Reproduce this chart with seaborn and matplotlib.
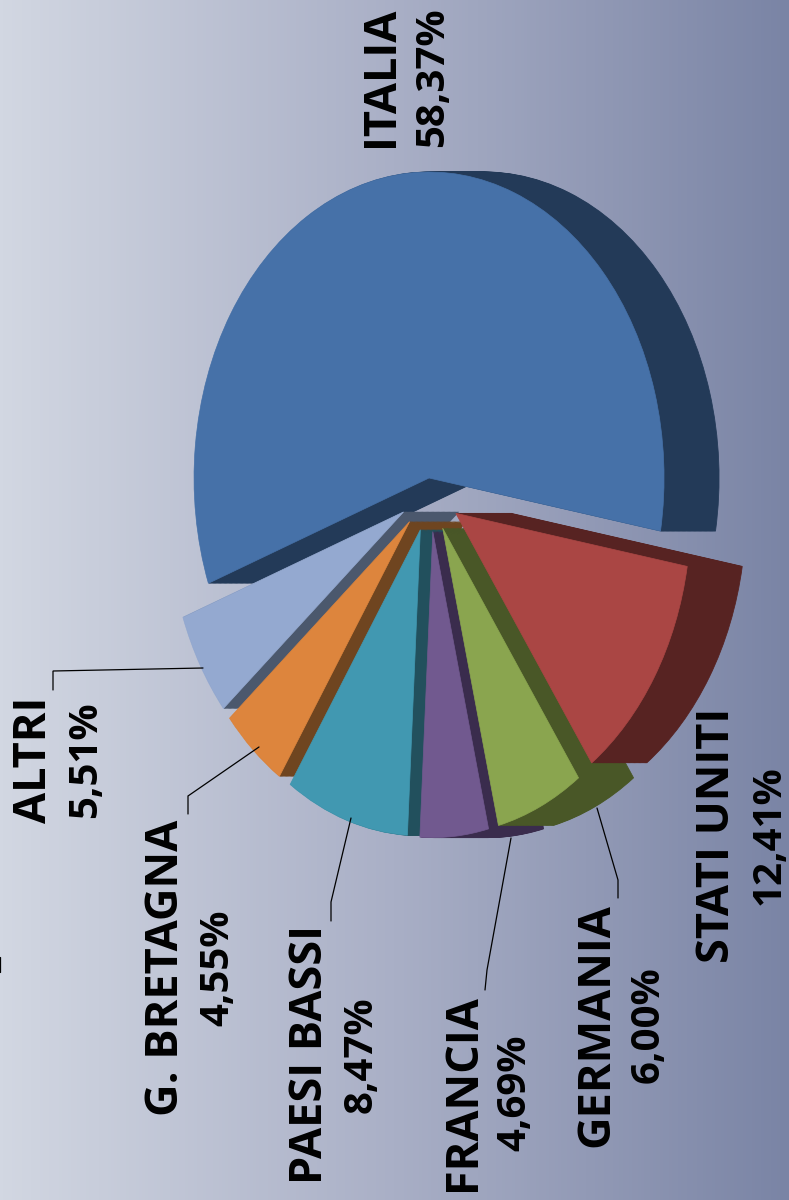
#!/usr/bin/env python3
import numpy as np
import matplotlib
matplotlib.use("Agg")
import matplotlib.pyplot as plt
from matplotlib.colors import LinearSegmentedColormap
import seaborn as sns

countries = ["ITALIA", "ALTRI", "G. BRETAGNA", "PAESI BASSI", "FRANCIA", "GERMANIA", "STATI UNITI"]
shares = [58.37, 5.51, 4.55, 8.47, 4.69, 6.00, 12.41]
face_colors = ["#4671A8", "#94A9D0", "#DD853D", "#4198B1", "#71598F", "#8AA54F", "#AA4644"]
side_colors = ["#233A58", "#4B586D", "#6F4520", "#22505D", "#3A2C4D", "#495727", "#572322"]

W, H = 789, 1200
CX, CY = 430, 492      # pie centre, pixels
RX, RY = 235, 306      # squashed radius, pixels
DEPTH = 55             # extrusion to the right, pixels
START = -10

sns.set_theme(style="white")
plt.rcParams['font.family'] = ['Open Sans', 'DejaVu Sans']


def to_data(px, py):
    return (px - CX) / RX, (CY - py) / RY


fig = plt.figure(figsize=(W / 100, H / 100), dpi=100)

# Background gradient, light on the left
bg = fig.add_axes([0, 0, 1, 1], zorder=0)
cmap = LinearSegmentedColormap.from_list("bg", ["#D2D7E2", "#A9AFC6", "#7A84A5"])
bg.imshow(np.linspace(0, 1, 256).reshape(1, -1), cmap=cmap, aspect="auto", extent=(0, W, H, 0))
bg.axis("off")

ax = fig.add_axes([0, 0, 1, 1], zorder=1)
ax.patch.set_alpha(0)
# Italia sits closer to the centre than the other slices
explode = [0.046] + [0.13] * (len(shares) - 1)

# Side walls: the same pie repeated with a shifted centre
for dx in np.linspace(DEPTH / RX, 1 / RX, 45):
    wedges, _ = ax.pie(shares, colors=side_colors, explode=explode, startangle=START,
                       center=(dx, 0), wedgeprops={"linewidth": 0.6})
    for i, w in enumerate(wedges):
        w.set_edgecolor(side_colors[i])
        w.set_zorder(2 * i + 2)

wedges, _ = ax.pie(shares, colors=face_colors, explode=explode, startangle=START,
                   wedgeprops={"linewidth": 0.5})
for i, w in enumerate(wedges):
    w.set_edgecolor(face_colors[i])
    w.set_zorder(2 * i + 3)

ax.set_xlim(to_data(0, 0)[0], to_data(W, 0)[0])
ax.set_ylim(to_data(0, H)[1], to_data(0, 0)[1])
ax.set_aspect("auto")
ax.axis("off")

# Labels: name and percentage are set apart because they differ in size
label_centres = [(405, 77), (58, 760), (190, 968), (333, 1055), (487, 1093), (620, 1025), (741, 835)]
for name, value, (px, py) in zip(countries, shares, label_centres):
    x, y = to_data(px - 23, py)
    ax.text(x, y, name, rotation=90, ha="center", va="center",
            fontsize=32.5, fontweight="bold", color="black", zorder=30)
    x, y = to_data(px + 28, py)
    ax.text(x, y, f"{value:.2f}%".replace(".", ","), rotation=90, ha="center", va="center",
            fontsize=29, fontweight="bold", color="black", zorder=30)

# Leader lines
leaders = [
    [(53, 690), (53, 671), (203, 668)],
    [(188, 814), (188, 796), (259, 747)],
    [(331, 921), (331, 902), (351, 818)],
    [(485, 990), (487, 970), (511, 838)],
    [(618, 898), (618, 880), (597, 808)],
    [(0, 957), (0, 972)],
]
for pts in leaders:
    xs, ys = zip(*[to_data(*p) for p in pts])
    ax.plot(xs, ys, color="black", lw=0.9, solid_joinstyle="miter", zorder=25, clip_on=False)

fig.savefig("out.png", dpi=100)
